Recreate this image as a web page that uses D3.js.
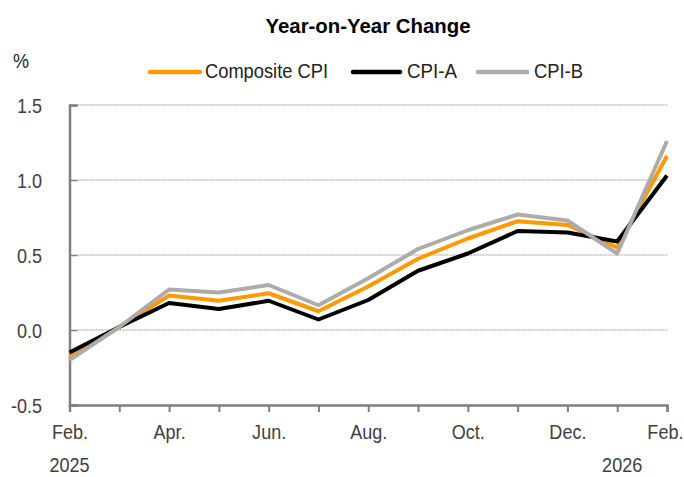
<!DOCTYPE html>
<html><head><meta charset="utf-8">
<script src="https://cdn.jsdelivr.net/npm/d3@7"></script>
<style>
html,body{margin:0;padding:0;background:#fff;}
text{font-family:"Liberation Sans",Arial,sans-serif;}
</style></head>
<body>
<svg id="chart" width="684" height="477"></svg>
<script>
const months = ["2025-02","2025-03","2025-04","2025-05","2025-06","2025-07","2025-08","2025-09","2025-10","2025-11","2025-12","2026-01","2026-02"];
const monthLabels = ["Feb.","","Apr.","","Jun.","","Aug.","","Oct.","","Dec.","","Feb."];
const composite = [-0.18,0.02,0.23,0.195,0.245,0.125,0.29,0.475,0.61,0.725,0.70,0.55,1.16];
const cpiA      = [-0.15,0.02,0.18,0.14,0.195,0.07,0.20,0.395,0.51,0.66,0.65,0.59,1.03];
const cpiB      = [-0.20,0.02,0.27,0.25,0.30,0.165,0.345,0.54,0.665,0.77,0.73,0.51,1.26];
const yTicks = [-0.5,0,0.5,1.0,1.5];
const seriesNames = ["Composite CPI","CPI-A","CPI-B"];
const seriesColors = ["#FF9900","#000000","#AEABAB"];

const SX = 0.86; // horizontal condensing for narrow look
const FS = 21;
const textCol = "#404040";

const svg = d3.select("#chart");
const margin = {left:69.5, right:17, top:105, bottom:72};
const W = 684, H = 477;
const x = d3.scalePoint().domain(months).range([margin.left, W - margin.right]);
const y = d3.scaleLinear().domain([-0.5,1.5]).range([H - margin.bottom, margin.top]);

// gridlines
svg.append("g").selectAll("line").data(yTicks.filter(d=>d>-0.5)).join("line")
  .attr("x1", margin.left+8).attr("x2", W - margin.right)
  .attr("y1", d=>y(d)).attr("y2", d=>y(d))
  .attr("stroke","#9a9a92").attr("stroke-width",1).attr("stroke-dasharray","2,1");

// y axis (inward ticks)
const yAxis = d3.axisLeft(y).tickValues(yTicks).tickSize(-8).tickPadding(0)
  .tickFormat(d=>d3.format(".1f")(d).replace("\u2212","-"));
const gy = svg.append("g").attr("transform",`translate(${margin.left},0)`).call(yAxis);
gy.select(".domain").attr("stroke","#7f7f7f").attr("stroke-width",2.5);
gy.selectAll(".tick line").attr("stroke","#7f7f7f").attr("stroke-width",1.5);
gy.selectAll("text").attr("font-size",FS).attr("fill",textCol)
  .attr("x",-27.5/SX).attr("dy","0.36em").attr("transform",`scale(${SX},1)`);

// x axis
const xAxis = d3.axisBottom(x).tickSize(7).tickFormat((d,i)=>monthLabels[i]);
const gx = svg.append("g").attr("transform",`translate(0,${y(-0.5)})`).call(xAxis);
gx.select(".domain").attr("stroke","#7f7f7f").attr("stroke-width",2.5);
gx.selectAll(".tick line").attr("stroke","#7f7f7f").attr("stroke-width",2);
gx.selectAll("text").attr("font-size",FS).attr("fill",textCol)
  .attr("y",34).attr("dy",0).attr("transform",`scale(${SX},1)`);
// keep last label inside the frame
gx.selectAll(".tick").filter((d,i)=>i===months.length-1).select("text")
  .attr("text-anchor","end").attr("x",(W-1-x(months[months.length-1]))/SX);

// year labels
const yearLab = (t, cx) => svg.append("g").attr("transform",`translate(${cx},472) scale(${SX},1)`)
  .append("text").attr("text-anchor","middle").attr("font-size",FS).attr("fill",textCol).text(t);
yearLab("2025", x(months[0]));
yearLab("2026", x(months[11])+5);

// lines
const line = d3.line().x((d,i)=>x(months[i])).y(d=>y(d));
[composite, cpiA, cpiB].forEach((s,k)=>{
  svg.append("path").datum(s).attr("d",line).attr("fill","none")
    .attr("stroke",seriesColors[k]).attr("stroke-width",4).attr("stroke-linejoin","round");
});

// title
svg.append("text").attr("x",368).attr("y",33).attr("text-anchor","middle")
  .attr("font-size",21).attr("font-weight","bold").attr("fill","#000")
  .attr("textLength",205).attr("lengthAdjust","spacingAndGlyphs").text("Year-on-Year Change");
// unit
svg.append("g").attr("transform",`translate(21,68) scale(${SX},1)`).append("text")
  .attr("text-anchor","middle").attr("font-size",FS).attr("fill","#222").text("%");

// legend
const legLine = [[148,202],[351,402],[476,529]];
const legText = [[205,123],[407,50],[534,49]];
seriesNames.forEach((n,k)=>{
  svg.append("line").attr("x1",legLine[k][0]+2).attr("x2",legLine[k][1]-2).attr("y1",72).attr("y2",72)
    .attr("stroke",seriesColors[k]).attr("stroke-width",4.5).attr("stroke-linecap","round");
  svg.append("text").attr("x",legText[k][0]).attr("y",78).attr("font-size",FS).attr("fill","#222")
    .attr("textLength",legText[k][1]).attr("lengthAdjust","spacingAndGlyphs").text(n);
});
</script>
</body></html>
